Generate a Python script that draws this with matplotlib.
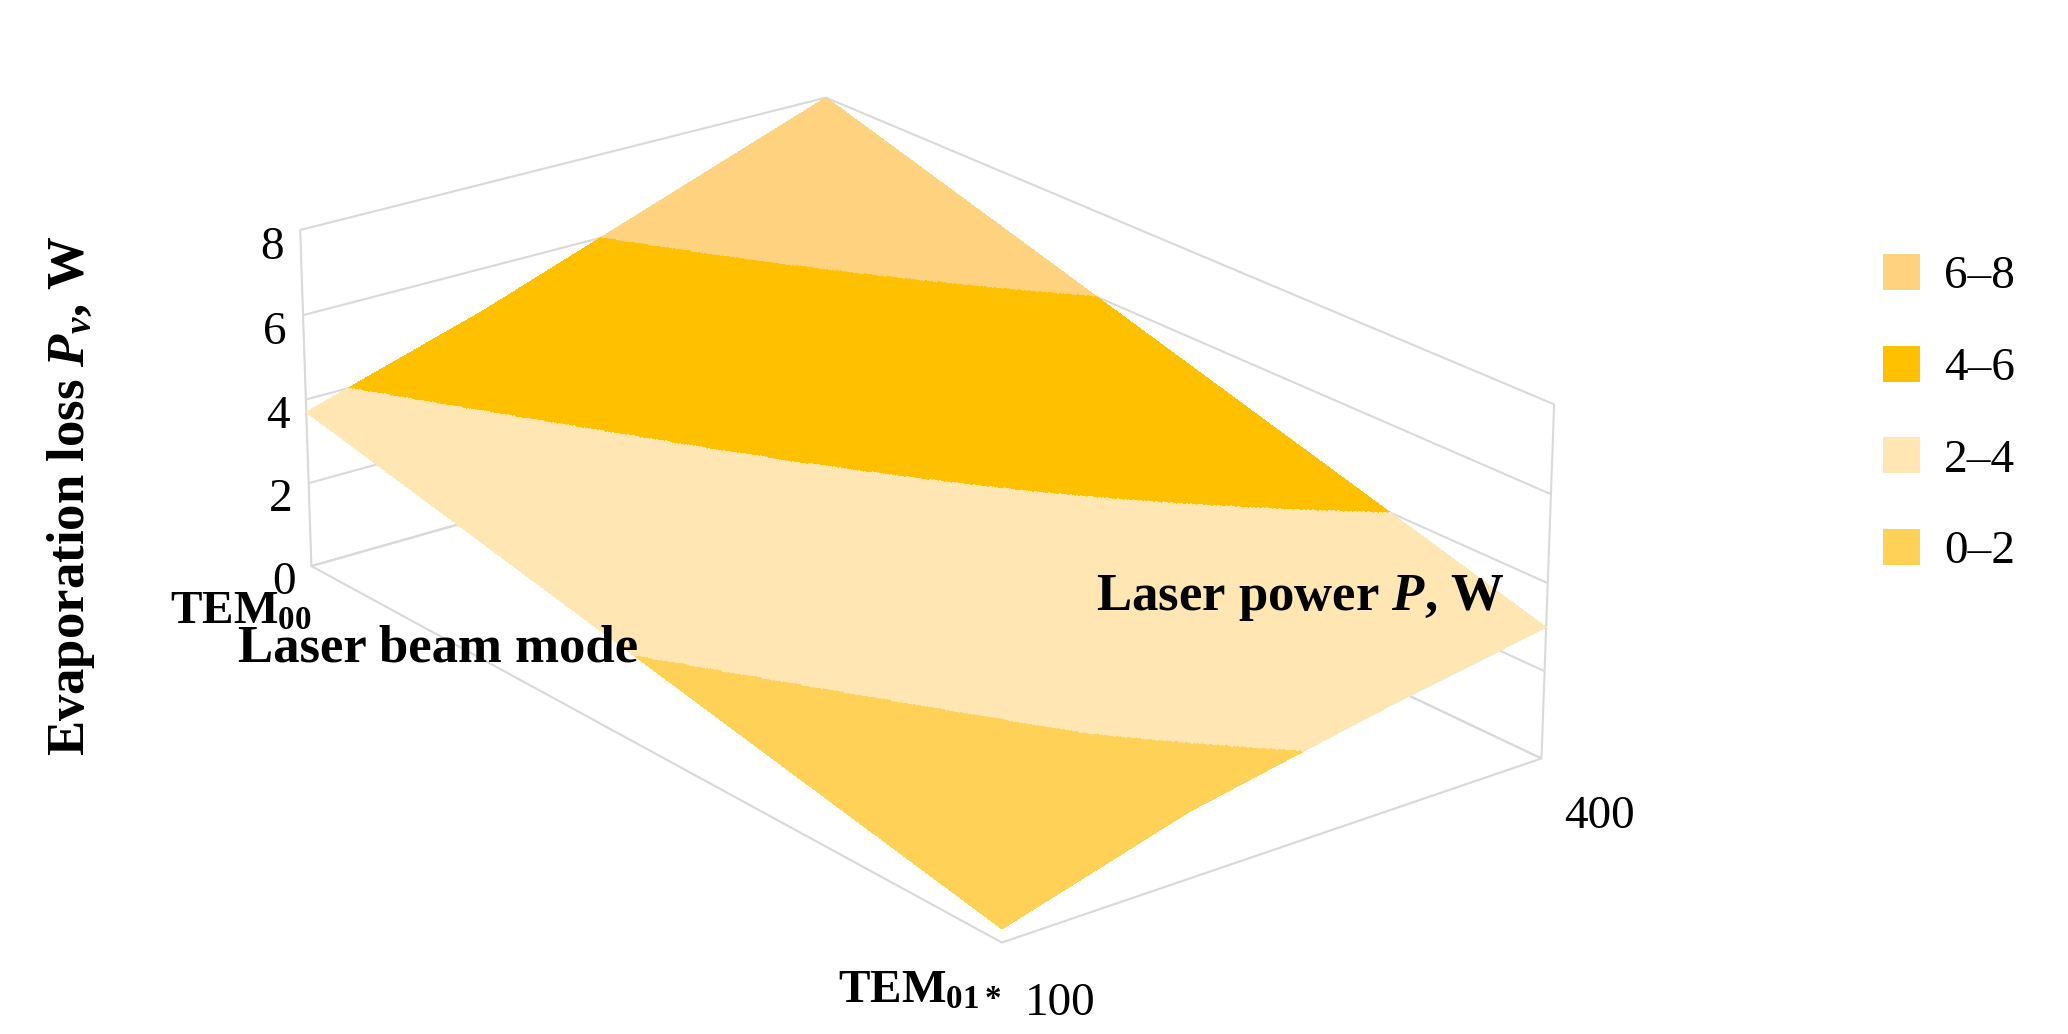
import numpy as np
import matplotlib.pyplot as plt
from matplotlib.patches import Patch
from matplotlib.colors import ListedColormap, BoundaryNorm

plt.rcParams['font.family'] = ['Liberation Serif', 'DejaVu Serif']
plt.rcParams['mathtext.fontset'] = 'custom'
plt.rcParams['mathtext.rm'] = 'Liberation Serif'
plt.rcParams['mathtext.bf'] = 'Liberation Serif:bold'
plt.rcParams['mathtext.it'] = 'Liberation Serif:italic:bold'

# data
modes = [r'$\mathbf{TEM_{00}}$', r'$\mathbf{TEM_{01*}}$']
powers = [100, 200, 300, 400]
loss_tem00 = [3.7, 5.0, 6.5, 8.0]
loss_tem01 = [0.3, 1.5, 2.3, 3.0]

band_labels = ['6–8', '4–6', '2–4', '0–2']
band_colors = ['#FFD27F', '#FFC000', '#FFE6B3', '#FFD257']  # top to bottom

# fine mesh only for colour banding (linear between read values)
xf = np.linspace(0, 1, 400)
yf = np.linspace(100, 400, 400)
X, Y = np.meshgrid(xf, yf)
z0 = np.interp(yf, powers, loss_tem00)
z1 = np.interp(yf, powers, loss_tem01)
Z = z0[:, None] * (1 - X) + z1[:, None] * X

cmap = ListedColormap(band_colors[::-1])
norm = BoundaryNorm([0, 2, 4, 6, 8], cmap.N)
fc = cmap(norm(np.clip(Z, 0, 7.999)))

fig = plt.figure(figsize=(20.68, 10.34), dpi=100)
ax = fig.add_axes([-0.06, -0.14, 0.98, 1.3], projection='3d')
ax.plot_surface(X, Y, Z, facecolors=fc, shade=False, linewidth=0,
                antialiased=False, rstride=1, cstride=1)

ax.view_init(elev=22, azim=-38)
ax.set_box_aspect((1.7, 1.0, 0.55))
ax.set_xlim(0, 1)
ax.set_ylim(100, 400)
ax.set_zlim(0, 8)

# move z axis to the left edge
ax.zaxis._axinfo['juggled'] = (1, 2, 0)

ax.set_xticks([0, 1])
ax.set_xticklabels([])
ax.set_yticks([100, 400])
ax.set_yticklabels([])
ax.set_zticks([0, 2, 4, 6, 8])
ax.set_zticklabels(['0', '2', '4', '6', '8'], fontsize=34)
ax.tick_params(axis='z', pad=4)
for a in (ax.xaxis, ax.yaxis, ax.zaxis):
    a._axinfo['tick']['outward_factor'] = 0
    a._axinfo['tick']['inward_factor'] = 0

ax.text(0, 100, -0.6, modes[0], fontsize=34, ha='right', va='top')
ax.text(1, 100, -0.6, modes[1], fontsize=34, ha='right', va='top')
ax.text(1.03, 100, -0.6, '100', fontsize=34, ha='left', va='top')
ax.text(1.03, 400, -0.6, '400', fontsize=34, ha='left', va='top')

fig.text(0.115, 0.36, 'Laser beam mode', fontsize=38, fontweight='bold')
fig.text(0.53, 0.41, r'Laser power $\mathit{P}$, W', fontsize=38, fontweight='bold')
fig.text(0.022, 0.52, r'Evaporation loss $\mathit{P_v}$, W', fontsize=38,
         fontweight='bold', rotation=90, va='center')

for a in (ax.xaxis, ax.yaxis, ax.zaxis):
    a.set_pane_color((1, 1, 1, 0))
    a._axinfo['grid']['color'] = '#d9d9d9'
    a._axinfo['grid']['linewidth'] = 1.5
    a.line.set_color('#d9d9d9')

handles = [Patch(facecolor=c, edgecolor='none') for c in band_colors]
fig.legend(handles, band_labels, loc='center right', bbox_to_anchor=(0.995, 0.6),
           frameon=False, fontsize=34, handlelength=0.8, handleheight=0.8,
           labelspacing=1.0, handletextpad=0.5)

fig.savefig('out.png', dpi=100)
